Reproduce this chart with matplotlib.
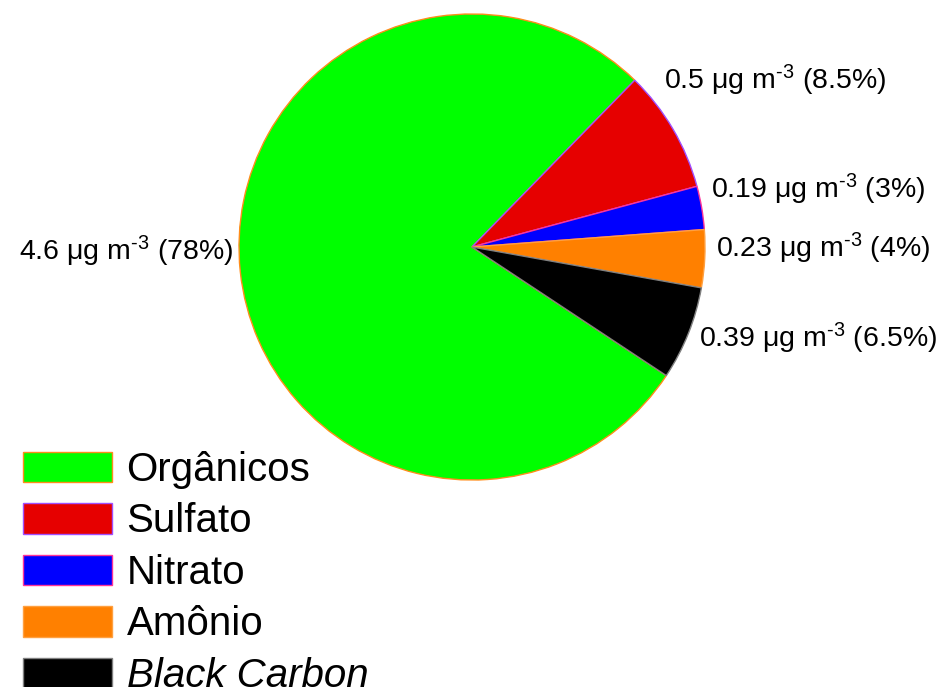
import matplotlib.pyplot as plt

plt.rcParams['font.family'] = ['Liberation Sans', 'DejaVu Sans']
plt.rcParams['mathtext.fontset'] = 'custom'
plt.rcParams['mathtext.rm'] = 'Liberation Sans'
plt.rcParams['mathtext.it'] = 'Liberation Sans:italic'

# species, mass (ug m-3) and share (%)
species = ['Orgânicos', 'Sulfato', 'Nitrato', 'Amônio', 'Black Carbon']
mass = ['4.6', '0.5', '0.19', '0.23', '0.39']
share = [78, 8.5, 3, 4, 6.5]
share_txt = ['78%', '8.5%', '3%', '4%', '6.5%']
colors = ['#00ff00', '#e60000', '#0000ff', '#ff8000', '#000000']
edges = ['#ff8c1a', '#a050ff', '#ff3399', '#ffa040', '#808080']

W, H = 941, 687
fig = plt.figure(figsize=(W / 100, H / 100), dpi=100)

# pie centre (472, 247) px, radius 233 px
cx, cy, r = 472, 247, 233
ax = fig.add_axes([(cx - r) / W, (H - cy - r) / H, 2 * r / W, 2 * r / H])
wedges, _ = ax.pie(share, colors=colors, startangle=-33.5, counterclock=False,
                   radius=1, wedgeprops=dict(linewidth=1))
for w, ec in zip(wedges, edges):
    w.set_edgecolor(ec)
ax.set_xlim(-1, 1)
ax.set_ylim(-1, 1)
ax.set_aspect('equal')
ax.axis('off')

# label anchors in pixels (x, baseline y, alignment)
label_pos = [(233, 260, 'right'), (664, 89, 'left'), (711, 198, 'left'),
             (716, 257, 'left'), (937, 347, 'right')]
for m, s, (px, py, ha) in zip(mass, share_txt, label_pos):
    txt = m + r' μg m$^{\text{-3}}$ (' + s + ')'
    fig.text(px / W, 1 - py / H, txt, ha=ha, va='baseline', fontsize=20.5)

leg = fig.legend(wedges, species, loc='upper left',
                 bbox_to_anchor=(23 / W, 1 - 451 / H), frameon=False,
                 fontsize=29, handlelength=2.2, handleheight=0.8,
                 handletextpad=0.37, labelspacing=0.335, borderpad=0,
                 borderaxespad=0)
leg.get_texts()[4].set_fontstyle('italic')

fig.savefig('out.png', dpi=100)
